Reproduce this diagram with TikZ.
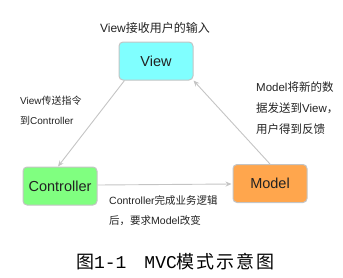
\documentclass[tikz,border=0pt]{standalone}
\usepackage{fontspec}
\setmainfont{Liberation Sans}
\newfontfamily\cjk{Noto Sans CJK SC}
\newfontfamily\capmono{Liberation Mono}
\usetikzlibrary{arrows.meta,calc}
\definecolor{viewc}{HTML}{80FFFF}
\definecolor{ctrlc}{HTML}{80FF80}
\definecolor{modelc}{HTML}{FFA64D}
\definecolor{edgec}{HTML}{C4C4C4}
\definecolor{txtc}{HTML}{222222}
\newcommand{\zh}[1]{{\cjk #1}}
\tikzset{
  box/.style={draw=edgec, line width=1pt, rounded corners=4pt, minimum width=74pt, minimum height=38pt, inner sep=0pt, font=\fontsize{14.5}{16}\selectfont, text=txtc},
  conn/.style={draw=edgec, line width=0.9pt, -{Stealth[length=6pt,width=5pt]}},
  lbl/.style={text=txtc, inner sep=0pt, anchor=west}
}
\begin{document}
\begin{tikzpicture}[x=1pt,y=-1pt]
\useasboundingbox (0,0) rectangle (343,277);
\node[box, fill=viewc] (view) at (156,61) {View};
\node[box, fill=ctrlc] (ctrl) at (60,186) {Controller};
\node[box, fill=modelc] (model) at (270,183.5) {Model};
\draw[conn] ($(view.south west)+(6,0)$) -- ($(ctrl.north)+(-2,0)$);
\draw[conn] (model.north) -- ($(view.south east)+(0,0)$);
\draw[conn] ($(ctrl.east)+(0,-1)$) -- ($(model.west)+(-1,0.5)$);
% labels
\node[lbl, anchor=center, font=\fontsize{12}{14}\selectfont] (tview) at (155,28) {View\zh{接收用户的输入}};
\node[lbl, font=\fontsize{10}{12}\selectfont] (tvc1) at (20,101) {View\zh{传送指令}};
\node[lbl, font=\fontsize{10}{12}\selectfont] (tvc2) at (20,121) {\zh{到}Controller};
\node[lbl, font=\fontsize{11.5}{13}\selectfont] (tmv1) at (256,87) {Model\zh{将新的数}};
\node[lbl, font=\fontsize{11.5}{13}\selectfont] (tmv2) at (256,108) {\zh{据发送到}View\zh{，}};
\node[lbl, font=\fontsize{11.5}{13}\selectfont] (tmv3) at (256,129) {\zh{用户得到反馈}};
\node[lbl, font=\fontsize{10.5}{13}\selectfont] (tcm1) at (109,200) {Controller\zh{完成业务逻辑}};
\node[lbl, font=\fontsize{10.5}{13}\selectfont] (tcm2) at (109,221) {\zh{后，要求}Model\zh{改变}};
% caption
\node[inner sep=0pt, text=black, font=\fontsize{18}{20}\selectfont] (cap) at (175.5,262) {\zh{图}{\capmono 1-1}\hspace{1em}{\capmono MVC}\zh{模\hspace{2pt}式\hspace{2pt}示\hspace{2pt}意\hspace{2pt}图}};
\end{tikzpicture}
\end{document}
